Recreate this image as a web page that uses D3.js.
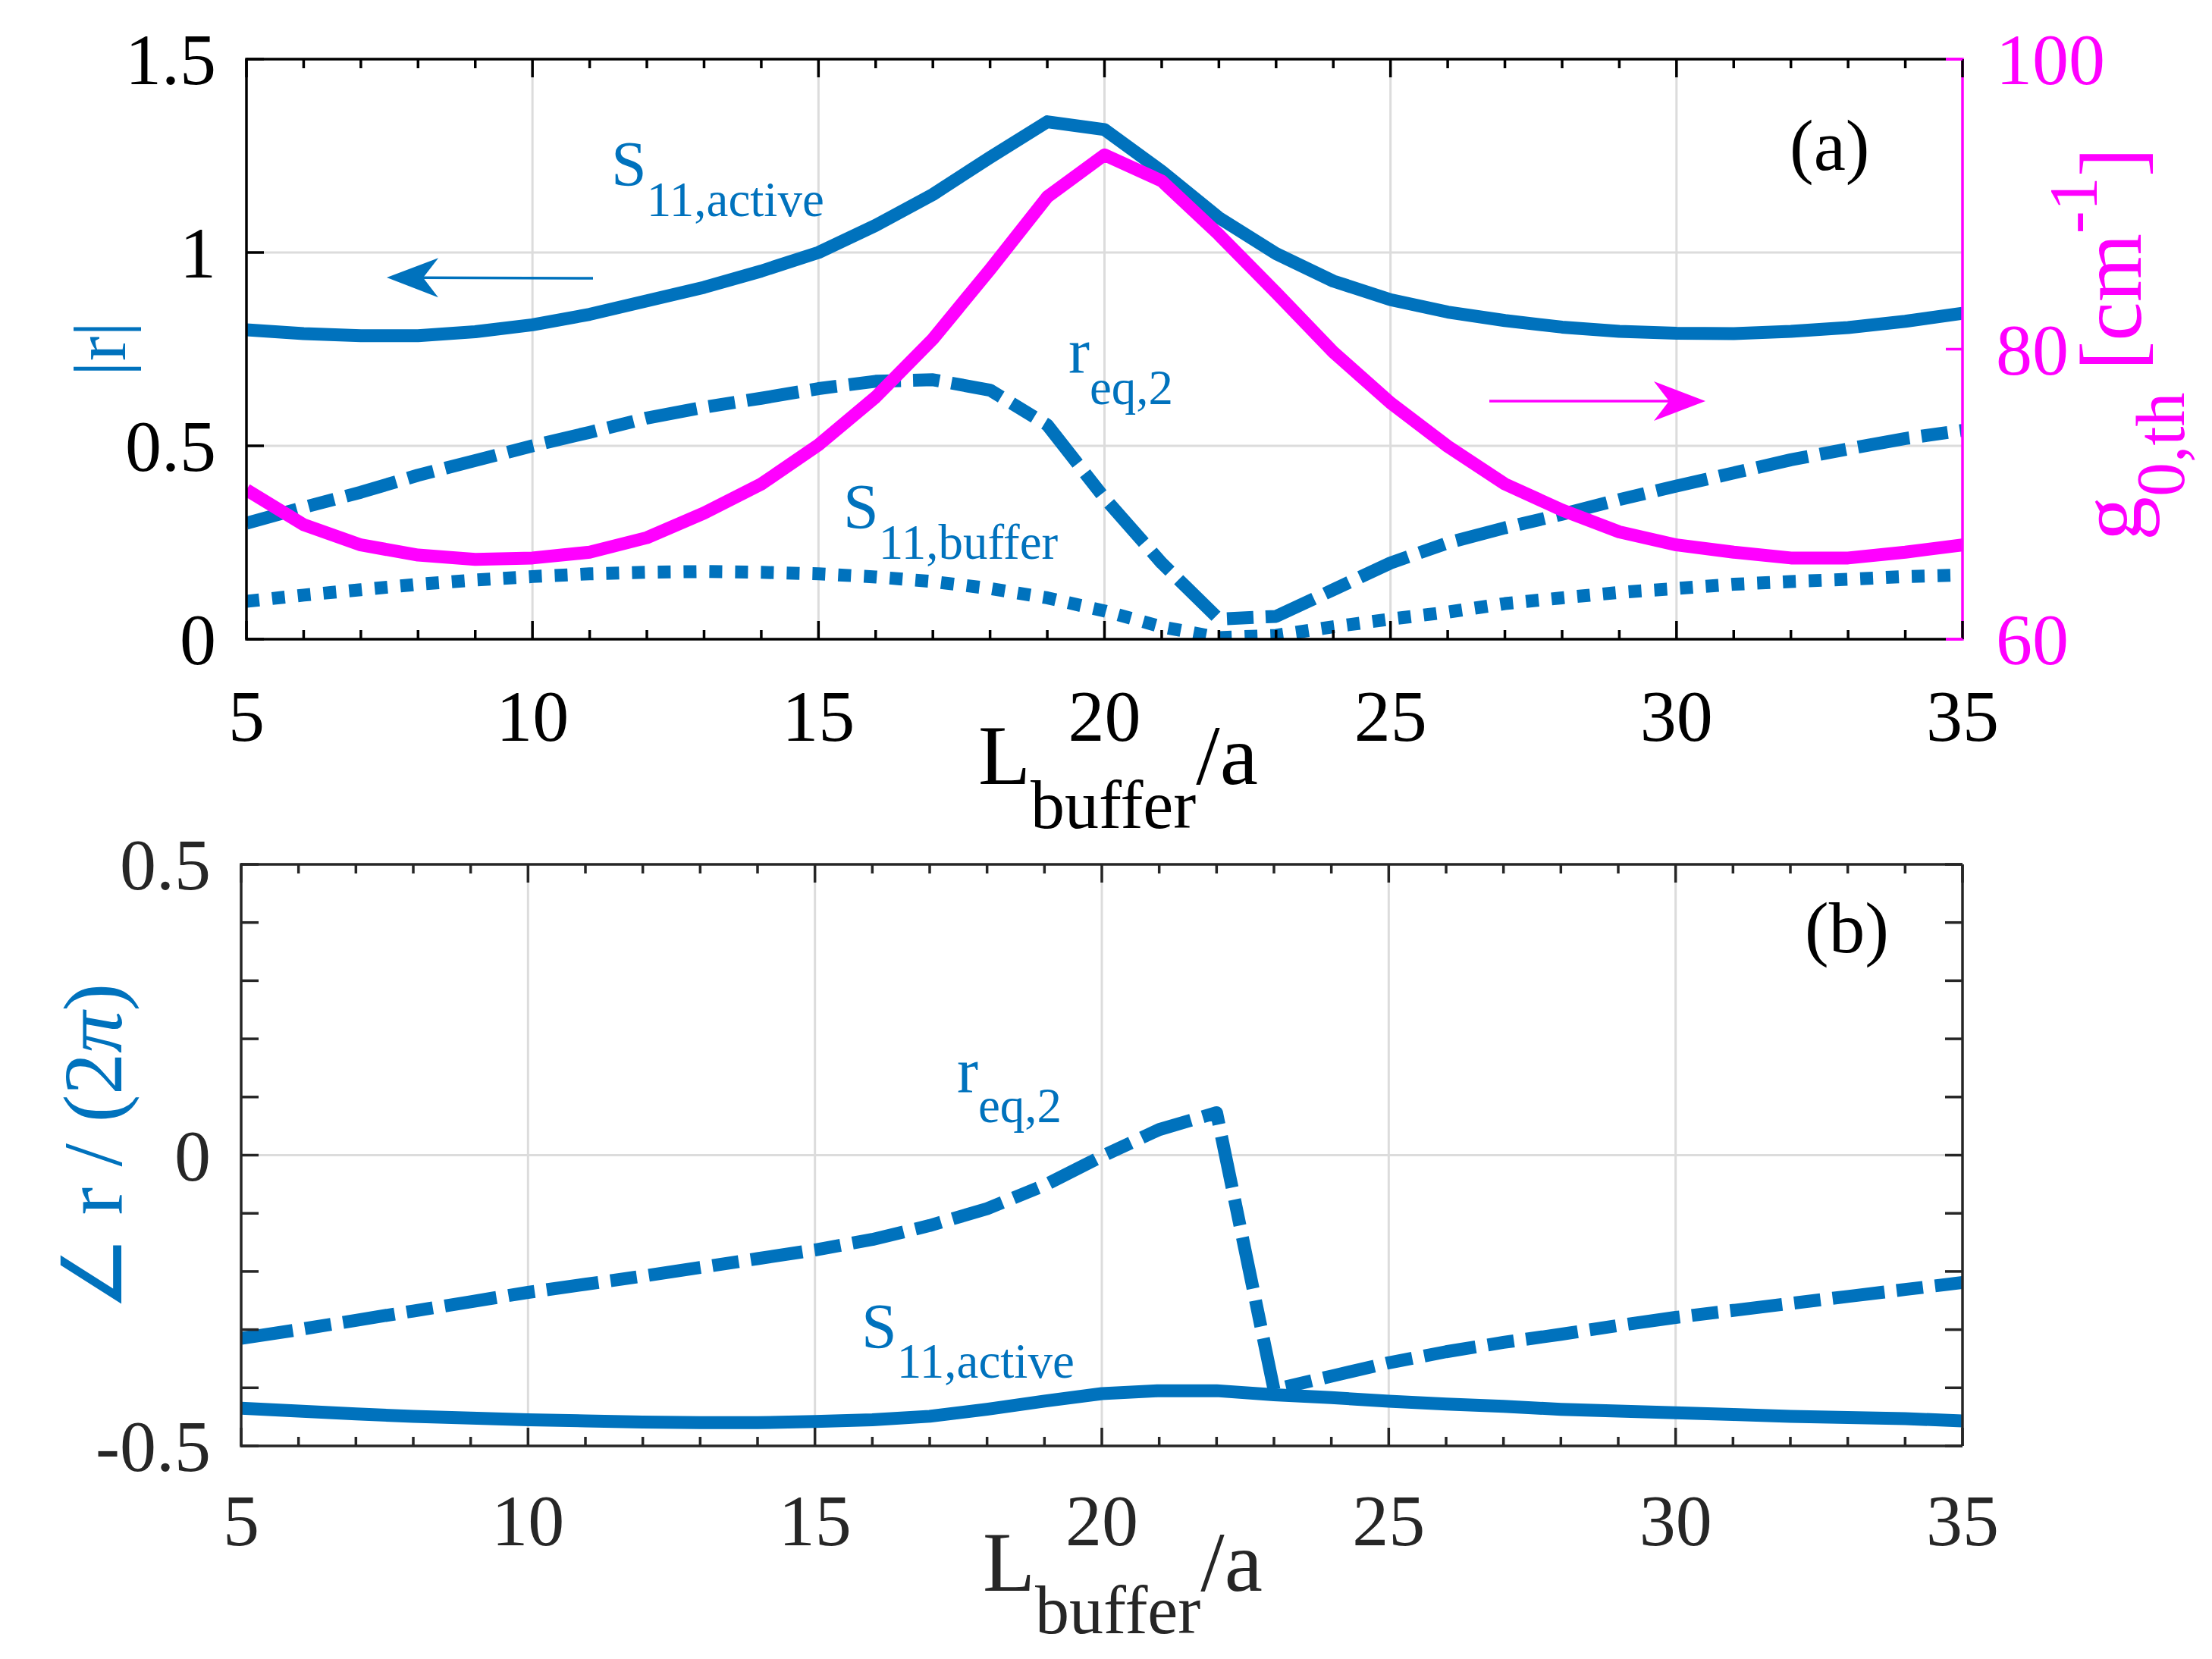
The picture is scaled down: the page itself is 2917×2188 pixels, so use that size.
<!DOCTYPE html>
<html><head><meta charset="utf-8">
<script src="https://cdn.jsdelivr.net/npm/d3@7/dist/d3.min.js"></script>
<style>body{margin:0;background:#fff}text{white-space:pre}</style>
</head><body>
<svg id="c" width="2917" height="2188" xmlns="http://www.w3.org/2000/svg"></svg>
<script>
// ---------------- data ----------------
const lBuffer = [5,6,7,8,9,10,11,12,13,14,15,16,17,18,19,20,21,22,23,24,25,26,27,28,29,30,31,32,33,34,35];
// panel (a): magnitudes (left axis) and threshold gain (right axis)
const s11ActiveMag = [0.80,0.79,0.785,0.785,0.795,0.813,0.84,0.875,0.91,0.952,1.0,1.07,1.15,1.246,1.338,1.318,1.21,1.09,0.997,0.926,0.878,0.846,0.824,0.807,0.796,0.791,0.79,0.796,0.806,0.822,0.843];
const reqMag       = [0.30,0.341,0.38,0.424,0.462,0.50,0.535,0.572,0.60,0.623,0.648,0.667,0.671,0.644,0.554,0.365,0.197,0.052,0.059,0.128,0.197,0.249,0.288,0.323,0.361,0.396,0.43,0.464,0.492,0.519,0.54];
const s11BufferMag = [0.098,0.114,0.128,0.142,0.153,0.162,0.169,0.173,0.175,0.173,0.169,0.161,0.149,0.131,0.107,0.073,0.032,0.004,0.01,0.032,0.052,0.07,0.092,0.107,0.121,0.131,0.142,0.149,0.155,0.162,0.166];
const g0th         = [70.3,67.9,66.5,65.8,65.5,65.6,66.0,67.0,68.7,70.7,73.4,76.7,80.7,85.5,90.5,93.4,91.6,87.9,83.9,79.8,76.3,73.3,70.7,68.9,67.4,66.5,66.0,65.6,65.6,66.0,66.5];
// panel (b): phases / (2 pi)
const reqPhase     = [-0.315,-0.300,-0.284,-0.268,-0.252,-0.236,-0.222,-0.208,-0.193,-0.178,-0.163,-0.145,-0.121,-0.092,-0.052,-0.002,0.044,0.073,-0.403,-0.38,-0.357,-0.338,-0.322,-0.308,-0.293,-0.279,-0.267,-0.255,-0.243,-0.231,-0.219];
const s11ActivePhase = [-0.435,-0.44,-0.445,-0.449,-0.452,-0.455,-0.457,-0.459,-0.46,-0.46,-0.458,-0.455,-0.449,-0.437,-0.423,-0.41,-0.405,-0.405,-0.412,-0.417,-0.423,-0.428,-0.432,-0.437,-0.44,-0.443,-0.446,-0.449,-0.451,-0.453,-0.457];
// ticks
const xMajorTicks = [5,10,15,20,25,30,35];
const xMajorLabels = ["5","10","15","20","25","30","35"];
const xMinorTicks = [6,7,8,9,11,12,13,14,16,17,18,19,21,22,23,24,26,27,28,29,31,32,33,34];
const xGrid = [10,15,20,25,30];
const yTicksA = [0,0.5,1,1.5];
const yLabelsA = ["0","0.5","1","1.5"];
const yGridA = [0.5,1];
const yRightTicksA = [60,80,100];
const yRightLabelsA = ["60","80","100"];
const yTicksB = [-0.5,-0.4,-0.3,-0.2,-0.1,0,0.1,0.2,0.3,0.4,0.5];
const yLabelTicksB = [-0.5,0,0.5];
const yLabelsB = ["-0.5","0","0.5"];
const yGridB = [0];

// ---------------- style ----------------
const FONT = "'Liberation Serif','Times New Roman',serif";
const BLUE = "#0072BD", MAG = "#FF00FF", GRID = "#dcdcdc";
const LW = 17;
const DASHDOT = "69,16,35,16", DOTTED = "17,17";
const svg = d3.select('#c');

function rich(x, y, parts, o) {
  const t = svg.append('text').attr('font-family', FONT).attr('fill', o.color)
    .attr('text-anchor', o.anchor || 'start');
  if (o.rotate) t.attr('transform', `translate(${x},${y}) rotate(-90)`).attr('x', 0).attr('y', 0);
  else t.attr('x', x).attr('y', y);
  parts.forEach(p => {
    const s = t.append('tspan').attr('font-size', p.s).attr('dy', p.dy || 0).text(p.t);
    if (p.i) s.attr('font-style', 'italic');
  });
  return t;
}

function arrow(x1, y1, x2, y2, color) {
  const dx = x2 - x1, dy = y2 - y1, L = Math.hypot(dx, dy), ux = dx / L, uy = dy / L;
  const px = -uy, py = ux, hl = 68, hw = 26, notch = 48;
  svg.append('line').attr('x1', x1).attr('y1', y1).attr('x2', x2 - ux * notch).attr('y2', y2 - uy * notch)
    .attr('stroke', color).attr('stroke-width', 3.5);
  const pts = [[x2, y2], [x2 - ux * hl + px * hw, y2 - uy * hl + py * hw], [x2 - ux * notch, y2 - uy * notch], [x2 - ux * hl - px * hw, y2 - uy * hl - py * hw]];
  svg.append('path').attr('d', 'M' + pts.map(p => p.join(',')).join('L') + 'Z').attr('fill', color);
}

function panel(cfg) {
  const {L, R, T, B, ydom, id} = cfg;
  const x = d3.scaleLinear([5, 35], [L, R]);
  const y = d3.scaleLinear(ydom, [B, T]);
  const g = svg.append('g');
  g.selectAll(null).data(xGrid).join('line').attr('x1', d => x(d)).attr('x2', d => x(d)).attr('y1', T).attr('y2', B)
    .attr('stroke', GRID).attr('stroke-width', 3);
  g.selectAll(null).data(cfg.yGrid).join('line').attr('y1', d => y(d)).attr('y2', d => y(d)).attr('x1', L).attr('x2', R)
    .attr('stroke', GRID).attr('stroke-width', 3);
  svg.append('clipPath').attr('id', id).append('rect').attr('x', L).attr('y', T).attr('width', R - L).attr('height', B - T);
  return {x, y, g};
}

function frame(cfg, x, y) {
  const {L, R, T, B, axisColor} = cfg;
  const g = svg.append('g').attr('stroke', axisColor).attr('stroke-width', 3.5);
  const rEnd = cfg.rightColor ? R - 22 : R;
  g.append('line').attr('x1', L).attr('x2', rEnd).attr('y1', B).attr('y2', B);
  g.append('line').attr('x1', L).attr('x2', rEnd).attr('y1', T).attr('y2', T);
  g.append('line').attr('x1', L).attr('x2', L).attr('y1', T - 1.75).attr('y2', B + 1.75);
  const rc = cfg.rightColor || axisColor;
  g.append('path').attr('d', `M${rEnd},${T}H${R}V${B}H${rEnd}`).attr('fill', 'none').attr('stroke', rc).attr('stroke-linejoin', 'miter');
  [[xMajorTicks, 24], [xMinorTicks, 12]].forEach(([arr, len]) => {
    g.selectAll(null).data(arr).join('line').attr('x1', d => x(d)).attr('x2', d => x(d)).attr('y1', B).attr('y2', B - len);
    g.selectAll(null).data(arr).join('line').attr('x1', d => x(d)).attr('x2', d => x(d)).attr('y1', T).attr('y2', T + len);
  });
  g.selectAll(null).data(cfg.yTicks).join('line').attr('y1', d => y(d)).attr('y2', d => y(d)).attr('x1', L).attr('x2', L + 23);
  if (!cfg.rightColor)
    g.selectAll(null).data(cfg.yTicks).join('line').attr('y1', d => y(d)).attr('y2', d => y(d)).attr('x1', R).attr('x2', R - 23);
  svg.append('g').selectAll(null).data(xMajorTicks).join('text').attr('x', d => x(d)).attr('y', B + cfg.xLabOff)
    .attr('text-anchor', 'middle').attr('font-family', FONT).attr('font-size', 96).attr('fill', cfg.textColor)
    .text((d, i) => xMajorLabels[i]);
  svg.append('g').selectAll(null).data(cfg.yLabTicks).join('text').attr('x', L - 40).attr('y', d => y(d) + 33)
    .attr('text-anchor', 'end').attr('font-family', FONT).attr('font-size', 96).attr('fill', cfg.textColor)
    .text((d, i) => cfg.yLabels[i]);
}

function series(p, yScale, vals, color, dash, clip) {
  const line = d3.line().x((d, i) => p.x(lBuffer[i])).y(d => yScale(d));
  svg.append('path').attr('d', line(vals)).attr('fill', 'none').attr('stroke', color).attr('stroke-width', LW)
    .attr('stroke-linejoin', 'round').attr('stroke-dasharray', dash).attr('clip-path', `url(#${clip})`);
}

// ---------------- panel (a) ----------------
const cfgA = {id: 'clipA', L: 325, R: 2588, T: 78, B: 843, ydom: [0, 1.5], axisColor: '#000', textColor: '#000',
  rightColor: MAG, yGrid: yGridA, yTicks: yTicksA, yLabTicks: yTicksA, yLabels: yLabelsA, xLabOff: 134};
const pA = panel(cfgA);
const yR = d3.scaleLinear([60, 100], [cfgA.B, cfgA.T]);
series(pA, pA.y, s11BufferMag, BLUE, DOTTED, 'clipA');
series(pA, pA.y, reqMag, BLUE, DASHDOT, 'clipA');
series(pA, pA.y, s11ActiveMag, BLUE, null, 'clipA');
series(pA, yR, g0th, MAG, null, 'clipA');
frame(cfgA, pA.x, pA.y);
svg.append('g').selectAll(null).data(yRightTicksA).join('line').attr('x1', cfgA.R).attr('x2', cfgA.R - 22)
  .attr('y1', d => yR(d)).attr('y2', d => yR(d)).attr('stroke', MAG).attr('stroke-width', 3.5);
svg.append('g').selectAll(null).data(yRightTicksA).join('text').attr('x', cfgA.R + 44).attr('y', d => yR(d) + 33)
  .attr('font-family', FONT).attr('font-size', 96).attr('fill', MAG).text((d, i) => yRightLabelsA[i]);

rich(1290, 1034, [{t: 'L', s: 113}, {t: 'buffer', s: 90, dy: 58}, {t: '/a', s: 113, dy: -58}], {color: '#000'});
rich(165, 460, [{t: '|r|', s: 98}], {color: BLUE, rotate: true, anchor: 'middle'});
rich(2823, 713, [{t: 'g', s: 116}, {t: '0,th', s: 90, dy: 57}, {t: ' [cm', s: 116, dy: -57}, {t: '-1', s: 90, dy: -58}, {t: ']', s: 116, dy: 58}],
  {color: MAG, rotate: true});
rich(806, 245, [{t: 'S', s: 84}, {t: '11,active', s: 65, dy: 40}], {color: BLUE});
rich(1409, 491, [{t: 'r', s: 84}, {t: 'eq,2', s: 65, dy: 42}], {color: BLUE});
rich(1112, 697, [{t: 'S', s: 84}, {t: '11,buffer', s: 65, dy: 40}], {color: BLUE});
rich(2360, 224, [{t: '(a)', s: 95}], {color: '#000'});
arrow(782, 367, 510, 366, BLUE);
arrow(1964, 529, 2249, 529, MAG);

// ---------------- panel (b) ----------------
const cfgB = {id: 'clipB', L: 318, R: 2588, T: 1140, B: 1907, ydom: [-0.5, 0.5], axisColor: '#262626', textColor: '#262626',
  yGrid: yGridB, yTicks: yTicksB, yLabTicks: yLabelTicksB, yLabels: yLabelsB, xLabOff: 131};
const pB = panel(cfgB);
series(pB, pB.y, reqPhase, BLUE, DASHDOT, 'clipB');
series(pB, pB.y, s11ActivePhase, BLUE, null, 'clipB');
frame(cfgB, pB.x, pB.y);
rich(1296, 2098, [{t: 'L', s: 113}, {t: 'buffer', s: 90, dy: 56}, {t: '/a', s: 113, dy: -56}], {color: '#262626'});
rich(160, 1513, [{t: '\u2220 r / (2', s: 110}, {t: '\u03C0', s: 110, i: true}, {t: ')', s: 110}], {color: BLUE, rotate: true, anchor: 'middle'});
rich(1262, 1440, [{t: 'r', s: 84}, {t: 'eq,2', s: 65, dy: 40}], {color: BLUE});
rich(1136, 1778, [{t: 'S', s: 84}, {t: '11,active', s: 65, dy: 39}], {color: BLUE});
rich(2380, 1256, [{t: '(b)', s: 95}], {color: '#000'});
</script>
</body></html>
